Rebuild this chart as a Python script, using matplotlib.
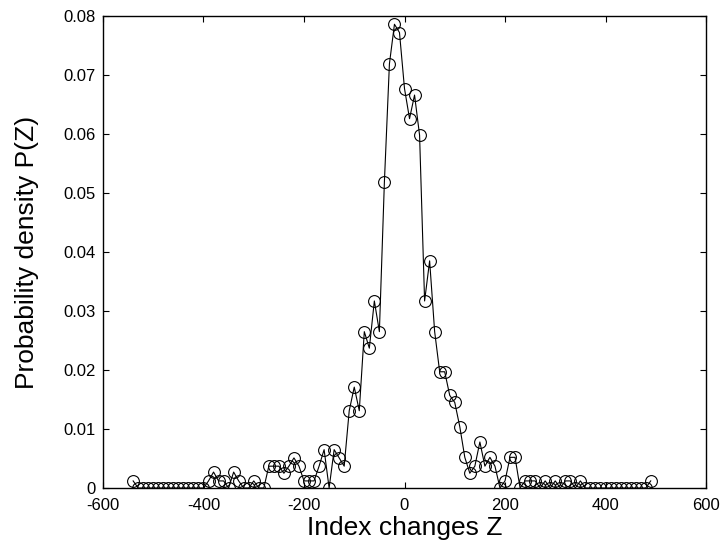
import matplotlib
matplotlib.use("Agg")
import matplotlib.pyplot as plt
from matplotlib.ticker import FixedLocator, FixedFormatter

plt.rcParams['font.family'] = ['Liberation Sans', 'DejaVu Sans']

# Bin centres (index change Z) and probability density P(Z)
z_values = [
    -540, -530, -520, -510, -500, -490, -480, -470, -460, -450,
    -440, -430, -420, -410, -400, -390, -380, -370, -360, -350,
    -340, -330, -320, -310, -300, -290, -280, -270, -260, -250,
    -240, -230, -220, -210, -200, -190, -180, -170, -160, -150,
    -140, -130, -120, -110, -100, -90, -80, -70, -60, -50,
    -40, -30, -20, -10, 0, 10, 20, 30, 40, 50,
    60, 70, 80, 90, 100, 110, 120, 130, 140, 150,
    160, 170, 180, 190, 200, 210, 220, 230, 240, 250,
    260, 270, 280, 290, 300, 310, 320, 330, 340, 350,
    360, 370, 380, 390, 400, 410, 420, 430, 440, 450,
    460, 470, 480, 490,
]
p_values = [
    0.0012, 0, 0, 0, 0, 0, 0, 0, 0, 0,
    0, 0, 0, 0, 0, 0.0012, 0.0027, 0.0012, 0.0012, 0,
    0.0027, 0.0012, 0, 0, 0.0012, 0, 0, 0.0037, 0.0037, 0.0037,
    0.0025, 0.0037, 0.0051, 0.0037, 0.0012, 0.0012, 0.0012, 0.0037, 0.0065, 0,
    0.0065, 0.0051, 0.0037, 0.0131, 0.0171, 0.0131, 0.0265, 0.0237, 0.0317, 0.0265,
    0.0519, 0.0719, 0.0786, 0.0772, 0.0677, 0.0626, 0.0666, 0.0598, 0.0317, 0.0385,
    0.0265, 0.0197, 0.0197, 0.0157, 0.0145, 0.0104, 0.0052, 0.0025, 0.0037, 0.0078,
    0.0037, 0.0052, 0.0037, 0, 0.0012, 0.0052, 0.0052, 0, 0.0012, 0.0012,
    0.0012, 0, 0.0012, 0, 0.0012, 0, 0.0012, 0.0012, 0, 0.0012,
    0, 0, 0, 0, 0, 0, 0, 0, 0, 0,
    0, 0, 0, 0.0012,
]

x_ticks = [-600, -400, -200, 0, 200, 400, 600]
x_tick_labels = ['-600', '-400', '-200', '0', '200', '400', '600']
y_ticks = [0, 0.01, 0.02, 0.03, 0.04, 0.05, 0.06, 0.07, 0.08]
y_tick_labels = ['0', '0.01', '0.02', '0.03', '0.04', '0.05', '0.06', '0.07', '0.08']

fig = plt.figure(figsize=(7.25, 5.52), dpi=100)
ax = fig.add_axes([103/725, 64/552, 603/725, 472/552])

ax.plot(z_values, p_values, color='black', linewidth=0.8,
        marker='o', markersize=8.5, markerfacecolor='none',
        markeredgecolor='black', markeredgewidth=0.8)

ax.set_xlim(-600, 600)
ax.set_ylim(0, 0.08)
ax.xaxis.set_major_locator(FixedLocator(x_ticks))
ax.xaxis.set_major_formatter(FixedFormatter(x_tick_labels))
ax.yaxis.set_major_locator(FixedLocator(y_ticks))
ax.yaxis.set_major_formatter(FixedFormatter(y_tick_labels))

ax.tick_params(direction='in', top=True, right=True, length=4, width=0.8,
               labelsize=12, colors='black')
ax.tick_params(axis='x', pad=7)
ax.tick_params(axis='y', pad=5)
for s in ax.spines.values():
    s.set_linewidth(1.0)

ax.set_xlabel('Index changes Z', fontsize=19, labelpad=2)
ax.set_ylabel('Probability density P(Z)', fontsize=19, labelpad=18)

fig.savefig('out.png', dpi=100)
